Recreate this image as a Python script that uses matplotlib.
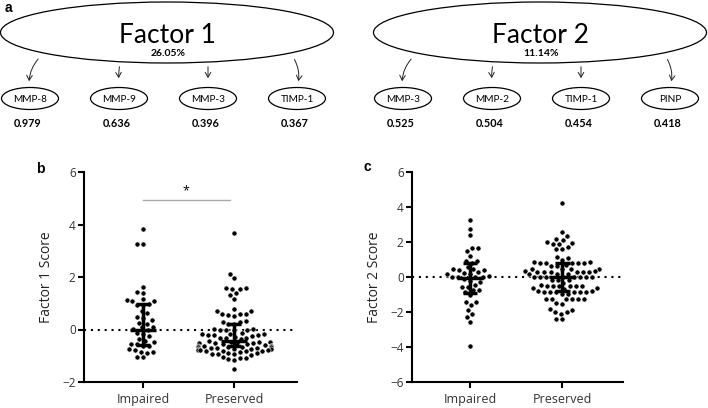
"""Factor analysis figure: loading diagram (a) and factor scores by group (b, c)."""

import matplotlib
matplotlib.use("Agg")
import matplotlib.pyplot as plt
from matplotlib.patches import Ellipse, FancyArrowPatch
import seaborn as sns

plt.rcParams["font.family"] = ["Open Sans", "DejaVu Sans"]

groups = ["Impaired", "Preserved"]

# panel a
factors = ["Factor 1", "Factor 2"]
variance = ["26.05%", "11.14%"]
f1_markers = ["MMP-8", "MMP-9", "MMP-3", "TIMP-1"]
f1_loadings = [0.979, 0.636, 0.396, 0.367]
f2_markers = ["MMP-3", "MMP-2", "TIMP-1", "PINP"]
f2_loadings = [0.525, 0.504, 0.454, 0.418]

# panel b
f1_impaired = [3.82, 3.25, 3.25, 1.62, 1.42, 1.38, 1.15, 1.12, 1.10, 1.08,
               0.97, 0.95, 0.93, 0.72, 0.62, 0.47, 0.45, 0.37, 0.26, 0.22,
               0.10, 0.08, 0.02, -0.02, -0.12, -0.16, -0.25, -0.35, -0.42,
               -0.48, -0.55, -0.57, -0.62, -0.63, -0.75, -0.78, -0.85, -0.87,
               -0.88, -1.03, -1.05]
f1_preserved = [3.66, 2.10, 1.95, 1.60, 1.58, 1.56, 1.55, 1.38, 1.32, 1.15,
                0.77, 0.70, 0.70, 0.60, 0.59, 0.58, 0.57, 0.50, 0.31, 0.30,
                0.29, 0.22, 0.21, 0.03, 0.01, 0.0, 0.0, -0.01, -0.03,
                -0.15, -0.17, -0.18, -0.19, -0.20, -0.21, -0.22, -0.24,
                -0.30, -0.31, -0.32, -0.34, -0.36,
                -0.45, -0.47, -0.48, -0.49, -0.50, -0.51, -0.52, -0.53, -0.54, -0.56,
                -0.60, -0.61, -0.62, -0.63, -0.64, -0.65, -0.66, -0.67, -0.68,
                -0.69, -0.70, -0.71,
                -0.73, -0.74, -0.75, -0.76, -0.77, -0.78, -0.79, -0.80, -0.81,
                -0.82, -0.83, -0.85,
                -0.89, -0.91, -0.92, -0.93, -0.95, -0.97,
                -1.06, -1.08, -1.10, -1.12, -1.18, -1.49]
f1_median = [0.0, -0.45]
f1_q1 = [-0.58, -0.62]
f1_q3 = [0.96, 0.22]

# panel c
f2_impaired = [3.28, 2.73, 2.39, 1.65, 1.64, 1.48, 1.20, 0.94, 0.92, 0.78,
               0.55, 0.45, 0.44, 0.40, 0.39, 0.26, 0.24, 0.20, 0.18, 0.05,
               0.01, 0.0, -0.01, -0.02, -0.10, -0.20, -0.30, -0.45, -0.55,
               -0.57, -0.75, -0.77, -0.85, -1.05, -1.40, -1.43, -1.60, -1.86,
               -2.10, -2.30, -2.58, -3.93]
f2_preserved = [4.25, 2.60, 2.37, 2.15, 2.14, 2.00, 1.95, 1.88, 1.87, 1.73,
                1.60, 1.59, 1.12, 1.11, 1.00,
                0.84, 0.83, 0.82, 0.81, 0.80, 0.79, 0.78,
                0.67, 0.65, 0.63, 0.47, 0.46, 0.45, 0.44,
                0.33, 0.32, 0.31, 0.30, 0.29, 0.28, 0.27, 0.26,
                0.17, 0.16, 0.15,
                0.02, 0.01, 0.01, 0.0, 0.0, -0.01, -0.01, -0.02,
                -0.15, -0.17, -0.19, -0.32,
                -0.48, -0.49, -0.50, -0.51, -0.51, -0.52, -0.53,
                -0.64, -0.65, -0.67,
                -0.81, -0.82, -0.83, -0.84, -0.85, -0.85, -0.86, -0.87,
                -0.96, -0.98,
                -1.23, -1.24, -1.25, -1.26, -1.27, -1.28,
                -1.50, -1.52, -1.84, -1.86, -2.00, -2.02, -2.10, -2.40, -2.42]
f2_median = [-0.05, 0.0]
f2_q1 = [-0.92, -0.82]
f2_q3 = [0.80, 0.78]

W, H = 708, 408
fig = plt.figure(figsize=(W / 100, H / 100), dpi=100)

# overlay in pixel coordinates for the diagram and panel letters
ov = fig.add_axes([0, 0, 1, 1])
ov.set_xlim(0, W)
ov.set_ylim(H, 0)
ov.axis("off")

big_x = [167, 540]
small_dx = [-137, -48, 41, 130]
arrow_start = [(10, 57), (1, 64), (0, 64), (-4, 57)]
arrow_end = [(-1, 84), (0, 81), (0, 81), (1, 84)]
arrow_rad = [0.2, 0.08, 0.0, -0.2]

for k, (markers, loadings) in enumerate([(f1_markers, f1_loadings),
                                         (f2_markers, f2_loadings)]):
    cx0 = big_x[k]
    ov.add_patch(Ellipse((cx0, 32.5), 333, 61, fill=False, lw=0.9, ec="black"))
    ov.text(cx0, 43, factors[k], fontsize=19, family="Lato",
            ha="center", va="baseline")
    ov.text(cx0 + 1, 56.5, variance[k], fontsize=7.5, weight="bold",
            family="Lato", ha="center", va="baseline")
    for j in range(4):
        cx = cx0 + small_dx[j]
        ov.add_patch(Ellipse((cx, 98.5), 57, 22, fill=False, lw=0.9, ec="black"))
        ov.text(cx, 102.5, markers[j], fontsize=7.2, family="Lato",
                ha="center", va="baseline")
        ov.text(cx - 2, 127, f"{loadings[j]:.3f}", fontsize=7.8,
                weight="bold", family="Lato", ha="center", va="baseline")
        sx, sy = arrow_start[j]
        ex, ey = arrow_end[j]
        ov.add_patch(FancyArrowPatch((cx + sx, sy), (cx + ex, ey),
                                     arrowstyle="->,head_length=3.5,head_width=2",
                                     connectionstyle=f"arc3,rad={arrow_rad[j]}",
                                     lw=0.7, color="#222222", mutation_scale=1))

ov.text(5, 12, "a", fontsize=10, weight="bold", family="Liberation Sans")
ov.text(36, 173, "b", fontsize=10, weight="bold", family="Liberation Sans")
ov.text(363, 171, "c", fontsize=10, weight="bold", family="Liberation Sans")


def score_panel(rect, imp, pres, med, q1, q3, ylim, yticks, xlim, ylabel):
    ax = fig.add_axes(rect)
    cats = [groups[0]] * len(imp) + [groups[1]] * len(pres)
    sns.swarmplot(x=cats, y=imp + pres, order=groups, color="black",
                  size=3.7, linewidth=0.45, edgecolor="white", ax=ax, zorder=3)
    ax.axhline(0, color="black", ls=(0, (1, 2.3)), lw=1.5, zorder=1)
    # median with interquartile range
    ax.vlines([0, 1], q1, q3, color="black", lw=2.5, zorder=10)
    ax.hlines(q1, [-0.08, 0.92], [0.08, 1.08], color="black", lw=2.5, zorder=10)
    ax.hlines(q3, [-0.08, 0.92], [0.08, 1.08], color="black", lw=2.5, zorder=10)
    ax.hlines(med, [-0.14, 0.86], [0.14, 1.14], color="black", lw=2.5, zorder=10)
    ax.set_xlim(*xlim)
    ax.set_ylim(*ylim)
    ax.set_yticks(yticks)
    ax.set_xticks([0, 1])
    ax.set_xticklabels(groups)
    ax.set_xlabel("")
    ax.set_ylabel(ylabel, fontsize=10, color="#222222", labelpad=6)
    for s in ("top", "right"):
        ax.spines[s].set_visible(False)
    for s in ("left", "bottom"):
        ax.spines[s].set_linewidth(1.5)
    ax.tick_params(length=4, width=1.5, labelsize=8.5, labelcolor="#333333",
                   direction="out", pad=2)
    ax.tick_params(axis="x", labelsize=9, pad=4)
    return ax


ax_b = score_panel([84 / W, 26 / H, 213 / W, 210 / H],
                   f1_impaired, f1_preserved, f1_median, f1_q1, f1_q3,
                   (-2, 6), [-2, 0, 2, 4, 6], (-0.65, 1.69), "Factor 1 Score")
# significance bar
ax_b.plot([0, 0.95], [4.93, 4.93], color="#aaaaaa", lw=1.0)
ax_b.text(0.47, 5.05, "*", ha="center", va="bottom", fontsize=9)

ax_c = score_panel([412 / W, 26 / H, 211 / W, 210 / H],
                   f2_impaired, f2_preserved, f2_median, f2_q1, f2_q3,
                   (-6, 6), [-6, -4, -2, 0, 2, 4, 6], (-0.63, 1.66),
                   "Factor 2 Score")

fig.savefig("out.png", dpi=100)
